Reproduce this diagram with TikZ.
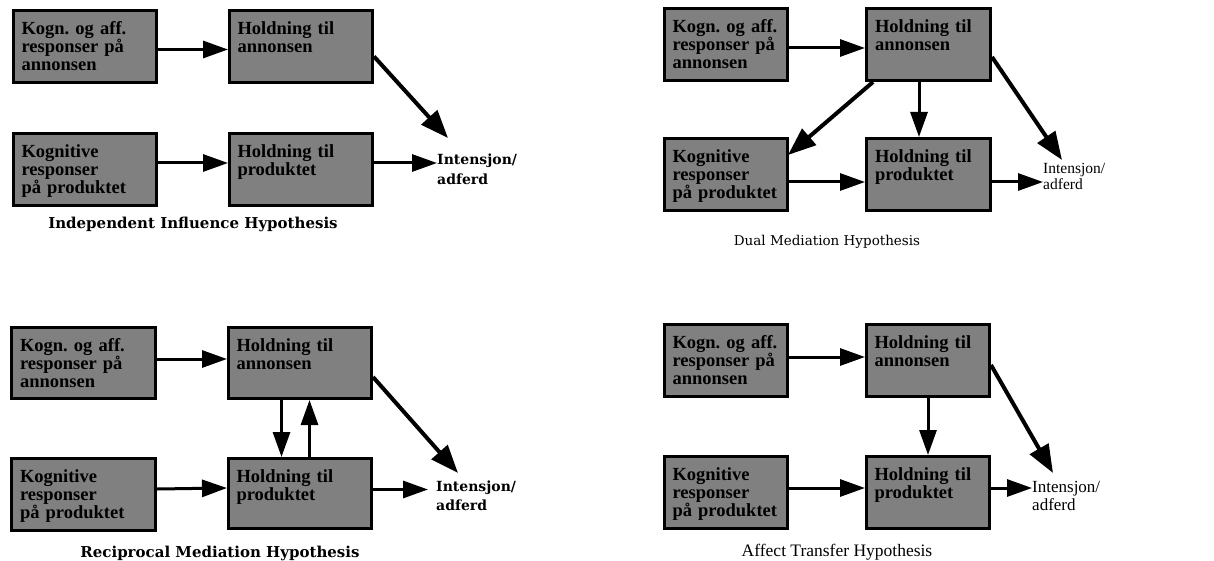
\documentclass[tikz,border=0pt]{standalone}
\usepackage{fontspec}
\setmainfont{Liberation Serif}
\newfontfamily\slab{DejaVu Serif}
\usetikzlibrary{arrows.meta}

\definecolor{boxgray}{gray}{0.5}

\tikzset{
  box/.style={draw=black, line width=3pt, fill=boxgray, anchor=north west,
    outer sep=1.5pt, inner xsep=8pt, inner ysep=0pt, align=left,
    text height=24pt, font=\bfseries\frenchspacing\fontsize{18.5}{18}\selectfont},
  wide box/.style={box, minimum width=143pt, minimum height=72pt,
    text width=127pt, text depth=48pt},
  narrow box/.style={box, minimum width=123pt, minimum height=72pt,
    text width=107pt, text depth=48pt},
  outcome/.style={anchor=base west, inner sep=0pt, align=left, text width=100pt},
  caption/.style={anchor=base, inner sep=0pt},
  arr/.style={line width=3pt, -{Triangle[length=25pt, width=17pt]}},
  darr/.style={line width=4pt, -{Triangle[length=28pt, width=21pt]}},
}

\begin{document}
\begin{tikzpicture}[x=1pt, y=-1pt]
\useasboundingbox[fill=white] (0,0) rectangle (1214,561);

% ---------- Independent Influence Hypothesis ----------
\node[wide box] (A1) at (12,9)   {Kogn. og aff.\\responser på\\annonsen};
\node[wide box] (B1) at (228,9)  {Holdning til\\annonsen};
\node[wide box] (C1) at (12,132) {Kognitive\\responser\\på produktet};
\node[wide box] (D1) at (228,132){Holdning til\\produktet};
\node[outcome, font=\slab\bfseries\fontsize{14}{20}\selectfont] (I1) at (437,165) {Intensjon/\\adferd};
\node[caption, font=\slab\bfseries\fontsize{15}{15}\selectfont] (T1) at (193,229) {Independent Influence Hypothesis};

\draw[arr] ([yshift=-3pt]A1.east) -- ([yshift=-3pt]B1.west);
\draw[arr] ([yshift=6.5pt]C1.east) -- ([yshift=6.5pt]D1.west);
\coordinate (p1) at ([yshift=6.5pt]D1.east);
\draw[arr] (p1) -- (p1 -| I1.west);
\draw[darr] ([yshift=-10pt]B1.east) -- ([xshift=11pt, yshift=27pt]I1.base west);

% ---------- Dual Mediation Hypothesis ----------
\node[narrow box] (A2) at (663,7)   {Kogn. og aff.\\responser på\\annonsen};
\node[narrow box, minimum width=124pt] (B2) at (865,7) {Holdning til\\annonsen};
\node[narrow box] (C2) at (663,137) {Kognitive\\responser\\på produktet};
\node[narrow box, minimum width=124pt] (D2) at (865,137) {Holdning til\\produktet};
\node[outcome, font=\fontsize{15.5}{16}\selectfont] (I2) at (1043,174) {Intensjon/\\adferd};
\node[caption, font=\slab\fontsize{13.5}{14}\selectfont] (T2) at (827,245) {Dual Mediation Hypothesis};

\draw[arr] ([yshift=-3.5pt]A2.east) -- ([yshift=-3.5pt]B2.west);
\draw[darr] ([xshift=8pt]B2.south west) -- ([xshift=-1pt, yshift=-18pt]C2.north east);
\draw[arr] ([xshift=-9.5pt]B2.south) -- ([xshift=-9.5pt]D2.north);
\draw[darr] ([yshift=-12.5pt]B2.east) -- ([xshift=19pt, yshift=14pt]I2.base west);
\draw[arr] ([yshift=-7.5pt]C2.east) -- ([yshift=-7.5pt]D2.west);
\coordinate (p2) at ([yshift=-7.5pt]D2.east);
\draw[arr] (p2) -- (p2 -| I2.west);

% ---------- Reciprocal Mediation Hypothesis ----------
\node[wide box, minimum width=144pt, minimum height=71pt, text depth=47pt] (A3) at (10,326)  {Kogn. og aff.\\responser på\\annonsen};
\node[wide box, minimum width=143pt, minimum height=71pt, text depth=47pt] (B3) at (227,326) {Holdning til\\annonsen};
\node[wide box, minimum width=144pt, minimum height=72pt] (C3) at (10,457)  {Kognitive\\responser\\på produktet};
\node[wide box, minimum width=143pt, minimum height=70pt, text depth=46pt] (D3) at (227,457) {Holdning til\\produktet};
\node[outcome, font=\slab\bfseries\fontsize{14}{19}\selectfont] (I3) at (436,491) {Intensjon/\\adferd};
\node[caption, font=\slab\bfseries\fontsize{15}{15}\selectfont] (T3) at (220,557) {Reciprocal Mediation Hypothesis};

\draw[arr] ([yshift=4pt]A3.east) -- ([yshift=4pt]B3.west);
\draw[arr] ([xshift=-18.5pt]B3.south) -- ([xshift=-18.5pt]D3.north);
\draw[arr] ([xshift=9.5pt]D3.north) -- ([xshift=9.5pt]B3.south);
\draw[darr] ([yshift=-14pt]B3.east) -- ([xshift=22pt, yshift=18pt]I3.base west);
\draw[arr] ([yshift=5.5pt]C3.east) -- ([yshift=5.5pt]D3.west);
\coordinate (p3) at ([yshift=4pt]D3.east);
\draw[arr, shorten >=8pt] (p3) -- (p3 -| I3.west);

% ---------- Affect Transfer Hypothesis ----------
\node[narrow box, minimum width=122pt] (A4) at (663,323) {Kogn. og aff.\\responser på\\annonsen};
\node[narrow box, minimum width=122pt] (B4) at (865,323) {Holdning til\\annonsen};
\node[narrow box, minimum width=122pt] (C4) at (663,455) {Kognitive\\responser\\på produktet};
\node[narrow box, minimum width=122pt] (D4) at (865,455) {Holdning til\\produktet};
\node[outcome, font=\fontsize{17}{18}\selectfont] (I4) at (1032,492) {Intensjon/\\adferd};
\node[caption, font=\fontsize{17.5}{18}\selectfont] (T4) at (837,556) {Affect Transfer Hypothesis};

\draw[arr] ([yshift=3.5pt]A4.east) -- ([yshift=3.5pt]B4.west);
\draw[arr] (B4.south) -- (D4.north);
\draw[darr] ([yshift=-4.5pt]B4.east) -- ([xshift=21pt, yshift=19pt]I4.base west);
\draw[arr] ([yshift=4.5pt]C4.east) -- ([yshift=4.5pt]D4.west);
\coordinate (p4) at ([yshift=4.5pt]D4.east);
\draw[arr] (p4) -- (p4 -| I4.west);
\end{tikzpicture}
\end{document}
